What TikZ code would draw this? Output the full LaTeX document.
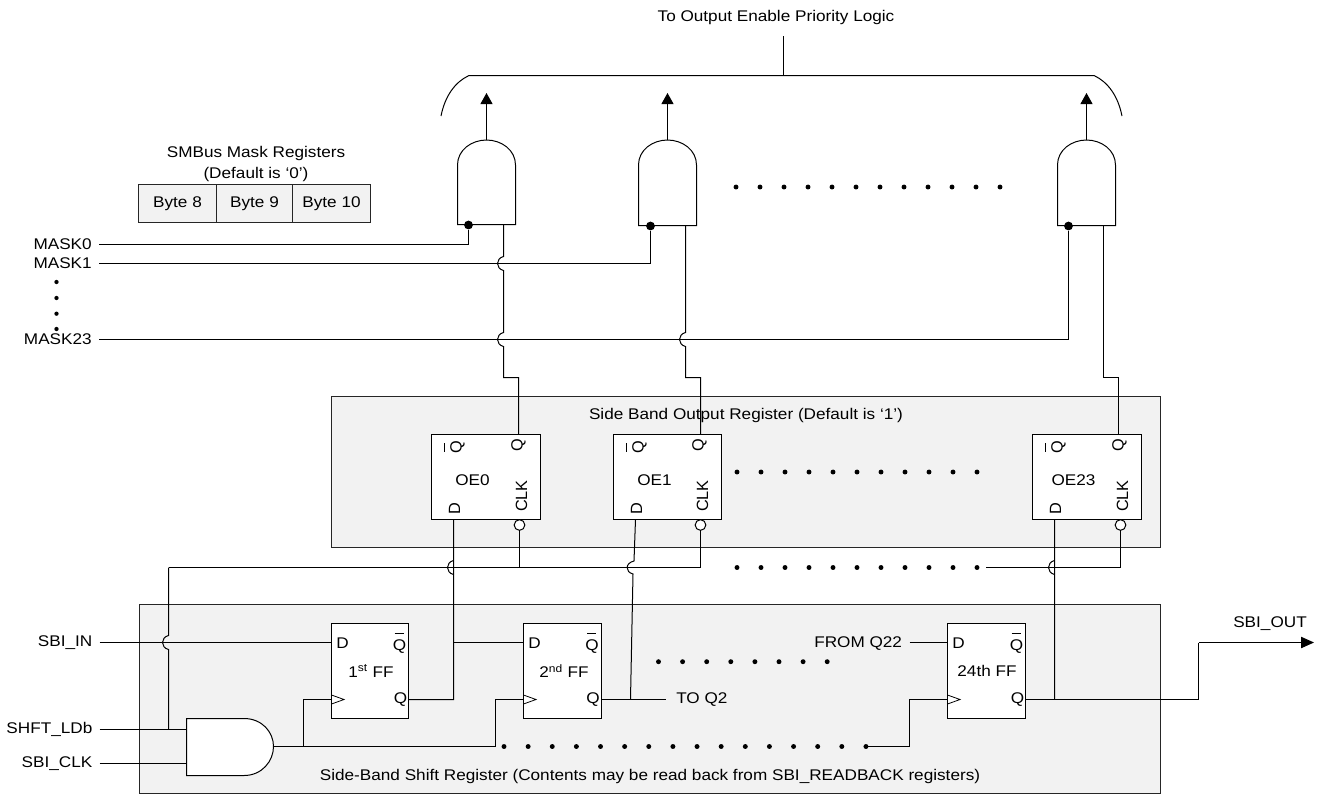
\documentclass[tikz,border=0pt]{standalone}
\usepackage{fontspec}
\setmainfont[FakeStretch=1.11]{Liberation Sans}
\newfontfamily\rotfont{Liberation Sans}
\usetikzlibrary{arrows.meta}
\tikzset{
  wire/.style={line width=0.75pt,black,line join=miter},
  label/.style={inner sep=0pt,font=\fontsize{11.6}{13.5}\selectfont,text=black},
  sidelabel/.style={inner sep=0pt,rotate=90,font=\rotfont\fontsize{12.2}{14}\selectfont,text=black},
  panel/.style={draw=black!85,line width=0.75pt,fill=black!5,inner sep=0pt,outer sep=0pt,anchor=north west},
  cell/.style={draw=black!85,line width=0.75pt,fill=black!5,inner sep=0pt,outer sep=0pt,anchor=north west,font=\fontsize{11.6}{13.5}\selectfont},
  chip/.style={draw=black,line width=0.75pt,fill=white,inner sep=0pt,outer sep=0pt,anchor=north west},
  gateshape/.style={draw=black,line width=0.75pt,fill=white},
  outarrow/.style={wire,-{Triangle[length=8.25pt,width=9pt]}},
  bigarrow/.style={wire,-{Triangle[length=9.75pt,width=8.5pt]}},
  pad/.style={circle,draw=black,line width=0.75pt,fill=white,inner sep=0pt,outer sep=0pt,minimum size=8pt},
  pin/.style={circle,fill=black,inner sep=0pt,minimum size=6.6pt}
}
% vertical wire hops (to the left) over a horizontal wire at height #2
\newcommand{\hop}[2]{-- (#1,#2-7) .. controls (#1-8,#2-5) and (#1-8,#2+5) .. (#1,#2+7)}
\newcommand{\dotrow}[4]{\foreach \i in {1,...,#3} \fill (#1+#4*\i-#4,#2) circle[radius=1.85pt];}
% output register cell: name, left x, width, text
\newcommand{\oecell}[4]{%
  \node[chip,minimum width=#3*0.75pt,minimum height=85*0.75pt] (#1) at (#2,434.5) {};
  \node[label] (#1lab) at (#2+41,480) {#4};
  \node[sidelabel] (#1d) at (#2+23,509) {D};
  \node[sidelabel] (#1ck) at (#3+#2-19,496) {CLK};
  \node[sidelabel] (#1q) at (#3+#2-22,445) {Q};
  \node[sidelabel] (#1qn) at (#2+26,447) {Q};
  \draw[line width=0.6pt] (#2+13,443) -- (#2+13,452);
}
% flip-flop: name, left x, width, text, centre x of text
\newcommand{\ffcell}[5]{%
  \node[chip,minimum width=#3*0.75pt,minimum height=95*0.75pt] (#1) at (#2,623.5) {};
  \node[label] (#1lab) at (#5,671) {#4};
  \node[label] (#1d) at (#2+11,643) {D};
  \node[label] (#1q) at (#2+#3-8,700) {Q};
  \node[label] (#1qn) at (#2+#3-9,647) {Q};
  \draw[line width=0.75pt] (#2+#3-14,633.5) -- (#2+#3-5,633.5);
  \draw[line width=0.6pt] (#2,695) -- (#2+12.5,699.5) -- (#2,704);
}
\begin{document}
\begin{tikzpicture}[x=0.75pt,y=-0.75pt]
\useasboundingbox (0,0) rectangle (1322,794);
\fill[white] (0,0) rectangle (1322,794);

% panels
\node[panel,minimum width=829*0.75pt,minimum height=151*0.75pt] (outpanel) at (331.5,396.5) {};
\node[panel,minimum width=1021*0.75pt,minimum height=189*0.75pt] (shiftpanel) at (139.5,604.5) {};
\node[label] (outtitle) at (746,415) {Side Band Output Register (Default is ‘1’)};
\node[label] (shifttitle) at (650,776) {Side-Band Shift Register (Contents may be read back from SBI\_READBACK registers)};

% top
\node[label] (toptext) at (776,17) {To Output Enable Priority Logic};
\coordinate (busmid) at (783.5,75.5);
\coordinate (bustop) at (783.5,36);
\draw[wire] (bustop) -- (busmid);
\draw[wire] (441,116) .. controls (445,96) and (455,82) .. (469,75.5) -- (busmid) -- (1094,75.5) .. controls (1108,82) and (1118,96) .. (1122,116);

% mask registers
\node[label] (masktitle) at (256,153) {SMBus Mask Registers};
\node[label] (masktitleb) at (256,174) {(Default is ‘0’)};
\node[cell,minimum width=78*0.75pt,minimum height=38*0.75pt] (byteeight) at (138.5,184.5) {Byte 8};
\node[cell,minimum width=76*0.75pt,minimum height=38*0.75pt] (bytenine) at (216.5,184.5) {Byte 9};
\node[cell,minimum width=78*0.75pt,minimum height=38*0.75pt] (byteten) at (292.5,184.5) {Byte 10};

% labels left
\node[label,anchor=east] (mzero) at (92,244) {MASK0};
\node[label,anchor=east] (mone) at (92,263.5) {MASK1};
\node[label,anchor=east] (mlast) at (92,339) {MASK23};
\foreach \yy in {282,298,313.7,329} \fill (56.5,\yy) circle[radius=1.6pt];
\node[label,anchor=east] (sbiin) at (92.6,642.5) {SBI\_IN};
\node[label,anchor=east] (shft) at (92.6,729.5) {SHFT\_LDb};
\node[label,anchor=east] (sbiclk) at (92.6,763.5) {SBI\_CLK};

% output gates
\foreach \nm/\xa/\yb in {gone/457.5/224.5,gtwo/638.5/225.5,gthree/1057.5/225.5}{
  \draw[gateshape] (\xa,\yb) -- (\xa,165) .. controls (\xa,150) and (\xa+14,140) .. (\xa+29,140) .. controls (\xa+44,140) and (\xa+58,150) .. (\xa+58,165) -- (\xa+58,\yb) -- cycle;
  \coordinate (\nm out) at (\xa+29,140);
  \coordinate (\nm tip) at (\xa+29,93);
  \draw[outarrow] (\nm out) -- (\nm tip);
}
\node[pin] (pone) at (468.5,225) {};
\node[pin] (ptwo) at (650.5,226) {};
\node[pin] (pthree) at (1068.5,226) {};
\dotrow{736}{187}{12}{24}

% registers
\oecell{oea}{431.5}{109}{OE0}
\oecell{oeb}{613.5}{108}{OE1}
\oecell{oec}{1032.5}{109}{OE23}
\dotrow{737}{472}{11}{24}
\node[pad] (cka) at (519.5,525) {};
\node[pad] (ckb) at (700.5,525) {};
\node[pad] (ckc) at (1120.5,525) {};

% mask wires
\draw[wire] (mzero.east) ++(7,0.5) -- (468.5,244.5) -- (pone);
\draw[wire] (mone.east) ++(7,0) -- (650.5,263.5) -- (ptwo);
\draw[wire] (mlast.east) ++(7,0.5) -- (1068.5,339.5) -- (pthree);

% gate to register wires
\coordinate (gonein) at (503.5,224.5);
\coordinate (gtwoin) at (685.5,225.5);
\coordinate (gthreein) at (1103.5,225.5);
\coordinate (oeaq) at (518.5,434.5);
\coordinate (oebq) at (700.5,434.5);
\coordinate (oecq) at (1118.5,434.5);
\draw[wire] (gonein) \hop{503.5}{263.5} \hop{503.5}{339.5} -- (503.5,377.5) -- (518.5,377.5) -- (oeaq);
\draw[wire] (gtwoin) \hop{685.5}{339.5} -- (685.5,377.5) -- (700.5,377.5) -- (oebq);
\draw[wire] (gthreein) -- (1103.5,377.5) -- (1118.5,377.5) -- (oecq);

% clock rail
\coordinate (railstart) at (168.5,567.5);
\coordinate (railend) at (1120.5,567.5);
\draw[wire] (railstart) -- (700.5,567.5) -- (ckb);
\draw[wire] (519.5,567.5) -- (cka);
\dotrow{737}{567.5}{11}{24}
\draw[wire] (986,567.5) -- (railend) -- (ckc);

% flip-flops
\ffcell{ffa}{331.5}{77}{1\textsuperscript{st} FF}{371}
\ffcell{ffb}{523.5}{77.5}{2\textsuperscript{nd} FF}{564}
\ffcell{ffc}{947.5}{78}{24th FF}{987}

% left input wires
\coordinate (ffaD) at (331.5,642.5);
\coordinate (andA) at (186.5,729.5);
\coordinate (andB) at (186.5,763.5);
\draw[wire] (railstart) \hop{168.5}{642.5} -- (168.5,729.5);
\draw[wire] (sbiin.east) ++(7,0) -- (ffaD);
\draw[wire] (shft.east) ++(7,0) -- (andA);
\draw[wire] (sbiclk.east) ++(7,0) -- (andB);

% AND gate
\draw[gateshape] (186.5,718.5) -- (244,718.5) .. controls (262,718.5) and (273.5,732) .. (273.5,746.5) .. controls (273.5,761) and (262,775.5) .. (244,775.5) -- (186.5,775.5) -- cycle;
\coordinate (andout) at (273.5,746.5);
\draw[wire] (andout) -- (303.5,746.5) -- (303.5,699.5) -- (331.5,699.5);
\draw[wire] (andout) -- (495.5,746.5) -- (495.5,699.5) -- (523.5,699.5);
\dotrow{504}{746.5}{16}{24.13}
\draw[wire] (866,746.5) -- (909.5,746.5) -- (909.5,699.5) -- (947.5,699.5);

% data wires
\coordinate (ffaout) at (408.5,699.5);
\coordinate (ffbD) at (523.5,642.5);
\coordinate (oead) at (453.5,519.5);
\coordinate (ffbout) at (601,699.5);
\coordinate (toqtwo) at (666,699.5);
\coordinate (oebd) at (635.5,519.5);
\coordinate (ffcout) at (1025.5,699.5);
\coordinate (oecd) at (1054.5,519.5);
\coordinate (sbioutend) at (1314,642.5);
\coordinate (ffcD) at (947.5,642.5);
\coordinate (fromend) at (909.5,642.5);
\draw[wire] (ffaout) -- (453.5,699.5) -- (453.5,642.5) \hop{453.5}{567.5} -- (oead);
\draw[wire] (453.5,642.5) -- (ffbD);
\draw[wire] (ffbout) -- (toqtwo);
\draw[wire] (630.5,699.5) -- (633,574) .. controls (625,572) and (625,563) .. (634,561) -- (oebd);
\draw[wire] (ffcout) -- (1198.5,699.5) -- (1198.5,642.5);
\draw[bigarrow] (1198.5,642.5) -- (sbioutend);
\draw[wire] (1054.5,699.5) \hop{1054.5}{567.5} -- (oecd);
\node[label,anchor=west] (toq) at (676,700) {TO Q2};
\node[label,anchor=west] (fromq) at (814,644) {FROM Q22};
\draw[wire] (fromend) -- (ffcD);
\dotrow{658.5}{661.7}{8}{24.1}
\node[label] (sbiout) at (1270,624) {SBI\_OUT};
\end{tikzpicture}
\end{document}
